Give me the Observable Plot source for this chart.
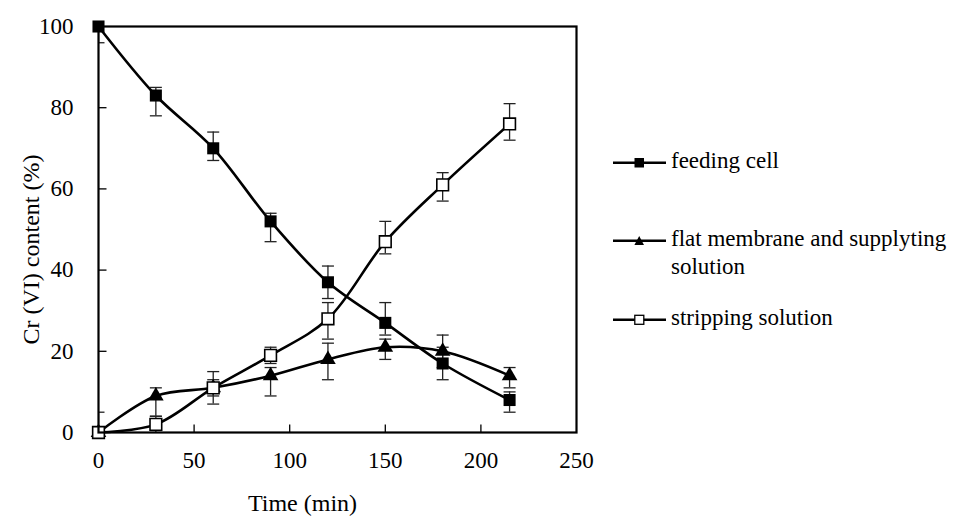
<!DOCTYPE html>
<html><head><meta charset="utf-8">
<script src="https://cdn.jsdelivr.net/npm/d3@7"></script>
<script src="https://cdn.jsdelivr.net/npm/@observablehq/plot@0.6"></script>
<style>
body{margin:0;background:#fff;}
#wrap{position:relative;width:960px;height:520px;font-family:"Liberation Serif",serif;background:#fff;}
#chart{position:absolute;left:0;top:0;}
.row{position:absolute;left:612px;display:flex;align-items:flex-start;font-family:"Liberation Serif",serif;font-size:23px;color:#000;line-height:28px;}
.row svg{flex:none;margin-right:3px;}
</style></head><body>
<div id="wrap"><div id="chart"></div><div id="legend"></div></div>
<script>
// ---- data ----
const time = [0, 30, 60, 90, 120, 150, 180, 215];
const seriesNames = ["feeding cell", "flat membrane and supplyting solution", "stripping solution"];
const legendLines = [["feeding cell"], ["flat membrane and supplyting", "solution"], ["stripping solution"]];

const feeding     = [100, 83, 70, 52, 37, 27, 17, 8];
const feedingLow  = [96, 78, 67, 47, 33, 24, 13, 5];
const feedingHigh = [104, 85, 74, 54, 41, 32, 21, 10];

const membrane     = [0, 9, 11, 14, 18, 21, 20, 14];
const membraneLow  = [0, 4, 9, 9, 13, 18, 16, 11];
const membraneHigh = [5, 11, 13, 16, 22, 23, 24, 16];

const stripping     = [0, 2, 11, 19, 28, 47, 61, 76];
const strippingLow  = [0, 0, 7, 17, 23, 44, 57, 72];
const strippingHigh = [0, 4, 15, 21, 32, 52, 64, 81];

const xTicks = [0, 50, 100, 150, 200, 250];
const yTicks = [0, 20, 40, 60, 80, 100];
const xLabel = "Time (min)";
const yLabel = "Cr (VI) content (%)";

// ---- table ----
const values = [feeding, membrane, stripping];
const lows = [feedingLow, membraneLow, strippingLow];
const highs = [feedingHigh, membraneHigh, strippingHigh];
const rows = [];
seriesNames.forEach((s, k) => time.forEach((t, i) => rows.push({series: s, time: t, value: values[k][i], low: lows[k][i], high: highs[k][i]})));

// custom symbols: error-bar cap and inward axis ticks
const cap = {draw(context, size) { const r = Math.sqrt(size / Math.PI); context.moveTo(-r, 0); context.lineTo(r, 0); }};
const tickUp = {draw(context, size) { const r = Math.sqrt(size / Math.PI); context.moveTo(0, 0); context.lineTo(0, -r); }};
const tickRight = {draw(context, size) { const r = Math.sqrt(size / Math.PI); context.moveTo(0, 0); context.lineTo(r, 0); }};
const font = "'Liberation Serif', serif";

const chart = Plot.plot({
  width: 600, height: 520,
  marginLeft: 98, marginRight: 24, marginTop: 26, marginBottom: 88,
  style: {fontFamily: font, fontSize: "23px", color: "#000", background: "#fff"},
  x: {domain: [0, 250]},
  y: {domain: [0, 100]},
  marks: [
    Plot.line(rows, {x: "time", y: "value", z: "series", curve: "catmull-rom", stroke: "#000", strokeWidth: 2.6}),
    Plot.ruleX(rows, {x: "time", y1: "low", y2: "high", stroke: "#222", strokeWidth: 1.3, clip: true}),
    Plot.dot(rows, {x: "time", y: "low", symbol: cap, r: 6, stroke: "#222", strokeWidth: 1.3, clip: true}),
    Plot.dot(rows, {x: "time", y: "high", symbol: cap, r: 6, stroke: "#222", strokeWidth: 1.3, clip: true}),
    Plot.dot(rows, {filter: d => d.series === seriesNames[0], x: "time", y: "value", symbol: "square", r: 6.8, fill: "#000", stroke: "none"}),
    Plot.dot(rows, {filter: d => d.series === seriesNames[1], x: "time", y: "value", symbol: "triangle", r: 5.8, fill: "#000", stroke: "none"}),
    Plot.dot(rows, {filter: d => d.series === seriesNames[2], x: "time", y: "value", symbol: "square", r: 6.6, fill: "#fff", stroke: "#000", strokeWidth: 1.6}),
    Plot.dot(xTicks.slice(1, -1), {x: d => d, frameAnchor: "bottom", symbol: tickUp, r: 8, stroke: "#000", strokeWidth: 1.3}),
    Plot.dot(yTicks.slice(1, -1), {y: d => d, frameAnchor: "left", symbol: tickRight, r: 8, stroke: "#000", strokeWidth: 1.3}),
    Plot.axisX({ticks: xTicks, tickSize: 0, tickPadding: 19, label: null, fontSize: 23, fontFamily: font}),
    Plot.axisY({ticks: yTicks, tickSize: 0, tickPadding: 25, label: null, fontSize: 23, fontFamily: font}),
    Plot.frame({stroke: "#000", strokeWidth: 2.2}),
    Plot.text([xLabel], {frameAnchor: "bottom", dx: -35, dy: 71, lineAnchor: "middle", textAnchor: "middle", fontSize: 24, fontFamily: font}),
    Plot.text([yLabel], {frameAnchor: "left", rotate: -90, dx: -67, dy: 20, lineAnchor: "middle", textAnchor: "middle", fontSize: 24, fontFamily: font})
  ]
});
document.getElementById("chart").appendChild(chart);

// ---- legend ----
const legendTops = [147, 225, 304];
const symbolsSvg = [
  '<rect x="22.5" y="11" width="9.5" height="9.5" fill="#000"/>',
  '<path d="M27.2,11 L32,20 L22.4,20 Z" fill="#000"/>',
  '<rect x="22.8" y="11.3" width="9" height="9" fill="#fff" stroke="#000" stroke-width="1.3"/>'
];
const legend = document.getElementById("legend");
seriesNames.forEach((s, k) => {
  const row = document.createElement("div");
  row.className = "row";
  row.style.top = legendTops[k] + "px";
  row.innerHTML = `<svg width="56" height="28"><line x1="1" x2="54" y1="15.7" y2="15.7" stroke="#000" stroke-width="2.6"/>${symbolsSvg[k]}</svg><div>${legendLines[k].join("<br>")}</div>`;
  legend.appendChild(row);
});
</script>
</body></html>
